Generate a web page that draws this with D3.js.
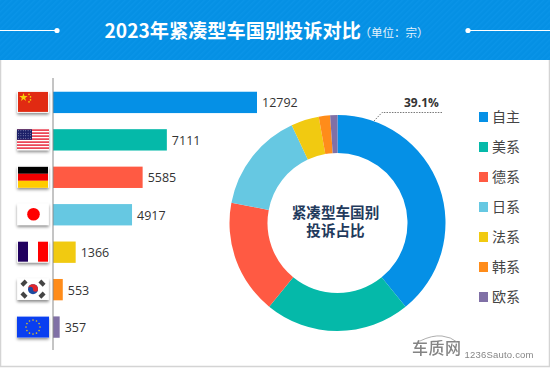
<!DOCTYPE html>
<html><head><meta charset="utf-8">
<script src="https://cdn.jsdelivr.net/npm/d3@7"></script>
<style>html,body{margin:0;padding:0;background:#fff}svg{display:block}text{font-family:"Noto Sans CJK SC","Noto Sans",sans-serif}</style>
</head><body><svg id="c" width="550" height="368"></svg>
<script>
const barKeys = ["cn","us","de","jp","fr","kr","eu"];
const barValues = [12792,7111,5585,4917,1366,553,357];
const legendLabels = ["自主","美系","德系","日系","法系","韩系","欧系"];
const palette = ["#0590e6","#05b9a9","#ff5a43","#66c8e2","#f1ca11","#ff8c1a","#8070a6"];
const titleText = "2023年紧凑型车国别投诉对比";
const unitText = "（单位：宗）";
const centerLines = ["紧凑型车国别","投诉占比"];
const shareLabel = "39.1%";

const svg = d3.select("#c");
const defs = svg.append("defs");
const hatch = defs.append("pattern").attr("id","h").attr("width",4).attr("height",4)
  .attr("patternUnits","userSpaceOnUse").attr("patternTransform","rotate(-45)");
hatch.append("rect").attr("width",4).attr("height",4).attr("fill","#0590e4");
hatch.append("rect").attr("width",4).attr("height",1.4).attr("fill","#0a94e8");
const sh = defs.append("filter").attr("id","s").attr("x","-30%").attr("y","-30%").attr("width","160%").attr("height","170%");
sh.append("feDropShadow").attr("dx",0).attr("dy",2).attr("stdDeviation",1.6).attr("flood-color","#000").attr("flood-opacity",.45);

svg.append("rect").attr("width",550).attr("height",368).attr("fill","#fff");
svg.append("path").attr("d","M.5 60V366.5H549.5V60").attr("fill","none").attr("stroke","#d4d4d4").attr("stroke-width",1.5);
svg.append("rect").attr("width",550).attr("height",60).attr("fill","url(#h)");

// header ornaments
[[0,57,57],[468,550,468]].forEach(([a,b,d])=>{
  svg.append("line").attr("x1",a).attr("x2",b).attr("y1",30.5).attr("y2",30.5).attr("stroke","#fff").attr("stroke-width",1);
  svg.append("circle").attr("cx",d).attr("cy",30.5).attr("r",2.6).attr("fill","#fff");
});
svg.append("text").attr("x",104.5).attr("y",37.5).attr("fill","#fff").attr("font-size",19.2).attr("font-weight",700).text(titleText);
svg.append("text").attr("x",359.5).attr("y",37).attr("fill","#e4f2fc").attr("font-size",11.5).text(unitText);

// bars
const x = d3.scaleLinear().domain([0,12792]).range([54,257]);
const y = d3.scaleBand().domain(barKeys).range([83.5,346]).paddingInner(.43).paddingOuter(.22);
svg.selectAll("rect.bar").data(barKeys).join("rect").attr("class","bar")
  .attr("x",53).attr("y",d=>y(d)).attr("height",y.bandwidth())
  .attr("width",(d,i)=>x(barValues[i])-53)
  .attr("fill",(d,i)=>palette[i]);
svg.selectAll("text.val").data(barKeys).join("text").attr("class","val")
  .attr("x",(d,i)=>x(barValues[i])+5)
  .attr("y",d=>y(d)+y.bandwidth()/2+5).attr("font-size",12.5).attr("fill","#333")
  .style("font-family","'Open Sans',sans-serif")
  .text((d,i)=>barValues[i]);
svg.append("line").attr("x1",53).attr("x2",53).attr("y1",78).attr("y2",350).attr("stroke","#8a8a8a").attr("stroke-width",1);

// flags
function flag(k){
  const g = svg.append("g").attr("transform",`translate(18,${y(k)+y.bandwidth()/2-10.5})`);
  const w=30,h=20;
  g.append("rect").attr("x",-.8).attr("y",-.8).attr("width",w+1.6).attr("height",h+1.6).attr("fill","#fff").attr("filter","url(#s)");
  const r=(a,b,c,d,f)=>g.append("rect").attr("x",a).attr("y",b).attr("width",c).attr("height",d).attr("fill",f);
  if(k==="cn"){
    r(0,0,w,h,"#e12a12");
    g.append("path").attr("d",d3.symbol(d3.symbolStar,22)()).attr("transform","translate(5.5,5.5)").attr("fill","#f6d30a");
    [[11,2.5],[12.5,5],[12.5,8],[11,10]].forEach(p=>g.append("circle").attr("cx",p[0]).attr("cy",p[1]).attr("r",.8).attr("fill","#f6d30a"));
  }
  if(k==="us"){
    r(-1,0,32,20,"#fff");
    d3.range(0,7).forEach(i=>r(-1,i*3,32,1.5,"#e8283c"));
    r(-1,0,15,10.5,"#1c2068");
    d3.range(0,4).forEach(a=>d3.range(0,6).forEach(b=>g.append("circle").attr("cx",.5+b*2.4).attr("cy",1.4+a*2.5).attr("r",.45).attr("fill","#cfd0ea")));
  }
  if(k==="de"){ r(0,0,w,7,"#000"); r(0,7,w,7,"#f00000"); r(0,14,w,7,"#ffcc00"); }
  if(k==="jp"){ r(0,0,w,h,"#fff"); g.append("circle").attr("cx",15.5).attr("cy",10).attr("r",6.3).attr("fill","#f00"); }
  if(k==="fr"){ r(0,0,10,h,"#21005f"); r(10,0,10,h,"#fff"); r(20,0,10,h,"#f00"); }
  if(k==="kr"){
    r(0,0,w,h,"#fff");
    g.append("circle").attr("cx",15).attr("cy",10).attr("r",5).attr("fill","#1d4aa0");
    g.append("path").attr("d","M10 10A5 5 0 0 1 20 10A2.5 2.5 0 0 1 15 10A2.5 2.5 0 0 0 10 10Z").attr("fill","#e0262c");
    [[6,4,-45],[24,4,45],[6,16,45],[24,16,-45]].forEach(q=>g.append("rect").attr("x",-3).attr("y",-2).attr("width",6).attr("height",4).attr("fill","#444").attr("transform",`translate(${q[0]},${q[1]}) rotate(${q[2]})`));
  }
  if(k==="eu"){
    r(-1,0,32,21,"#0a3ff0");
    d3.range(0,12).forEach(i=>{const a=i/12*2*Math.PI;g.append("circle").attr("cx",15+7*Math.cos(a)).attr("cy",10.5+7*Math.sin(a)).attr("r",.8).attr("fill","#e0c020");});
  }
}
barKeys.forEach(flag);

// donut
const cx=337.5, cy=223;
const pie = d3.pie().sort(null)(barValues);
const arc = d3.arc().innerRadius(70).outerRadius(108);
const dg = svg.append("g").attr("transform",`translate(${cx},${cy})`);
dg.selectAll("path").data(pie).join("path").attr("d",arc).attr("fill",(d,i)=>palette[i]);
const ct = svg.append("text").attr("text-anchor","middle").attr("font-size",14.6).attr("font-weight",700).attr("fill","#1f3a5c");
centerLines.forEach((t,i)=>ct.append("tspan").attr("x",335.5).attr("y",218+i*18).text(t));

// leader
svg.append("path").attr("d","M374 121L382 112.5H442").attr("fill","none").attr("stroke","#555").attr("stroke-width",.8).attr("stroke-dasharray","1.5 1.2");
svg.append("text").attr("x",404).attr("y",107).attr("font-size",12).attr("font-weight",700).attr("fill","#333")
  .style("font-family","'Open Sans',sans-serif").text(shareLabel);

// legend
legendLabels.forEach((t,i)=>{
  const yy=117+i*30;
  svg.append("rect").attr("x",479).attr("y",yy-5).attr("width",9).attr("height",10).attr("fill",palette[i]);
  svg.append("text").attr("x",492).attr("y",yy+5).attr("font-size",14).attr("fill","#444").text(t);
});

// watermark
const wm = svg.append("g").attr("fill","#6f6f6f").attr("opacity",.85);
wm.append("text").attr("x",412).attr("y",353.5).attr("font-size",16).attr("font-weight",500).attr("textLength",49).text("车质网");
wm.append("text").attr("x",464.5).attr("y",357.5).attr("font-size",9.5).style("font-family","'Liberation Sans',sans-serif").attr("textLength",69).text("1236Sauto.com");
svg.append("path").attr("d","M420 341Q432 335 442 336Q451 337 457 342").attr("fill","none").attr("stroke","#999").attr("stroke-width",.8);
</script></body></html>
